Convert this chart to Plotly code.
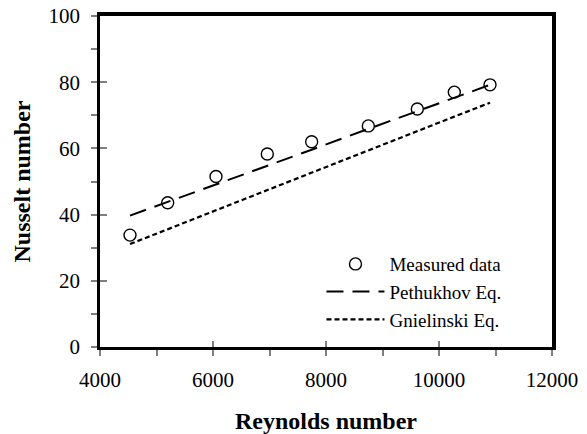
import plotly.graph_objects as go

reynolds = [4531, 5198, 6053, 6961, 7746, 8749, 9616, 10271, 10903]
nu_measured = [33.8, 43.6, 51.5, 58.3, 62.0, 66.8, 71.9, 77.0, 79.2]
nu_pethukhov = [39.7, 43.8, 49.1, 54.8, 59.6, 65.9, 71.2, 75.3, 79.2]
nu_gnielinski = [31.1, 35.6, 41.3, 47.4, 52.7, 59.4, 65.2, 69.6, 73.8]
x_ticks = [4000, 6000, 8000, 10000, 12000]
x_tick_labels = ["4000", "6000", "8000", "10000", "12000"]
y_ticks = [0, 20, 40, 60, 80, 100]
x_range = [4000, 12000]
y_range = [0, 100]

FONT = "Liberation Serif"
TICK_GRAY = "#7f7f7f"

fig = go.Figure()
fig.add_trace(go.Scatter(x=reynolds, y=nu_measured, mode="markers", name="Measured data",
                         marker=dict(symbol="circle-open", size=12, color="black",
                                     line=dict(width=1.4, color="black"))))
fig.add_trace(go.Scatter(x=reynolds, y=nu_pethukhov, mode="lines", name="Pethukhov Eq.",
                         line=dict(color="black", width=2, dash="17px,9px")))
fig.add_trace(go.Scatter(x=reynolds, y=nu_gnielinski, mode="lines", name="Gnielinski Eq.",
                         line=dict(color="black", width=2.2, dash="5px,3px")))
# invisible helper traces to activate the frame / crossing-tick axes
fig.add_trace(go.Scatter(x=[reynolds[0]], y=[nu_measured[0]], xaxis="x2", yaxis="y2",
                         mode="markers", marker=dict(opacity=0), showlegend=False, hoverinfo="skip"))
fig.add_trace(go.Scatter(x=[reynolds[0]], y=[nu_measured[0]], xaxis="x3", yaxis="y3",
                         mode="markers", marker=dict(opacity=0), showlegend=False, hoverinfo="skip"))

hidden = dict(showgrid=False, zeroline=False, showticklabels=False, automargin=False)

fig.update_layout(
    width=587, height=434,
    margin=dict(l=100, r=35, t=16, b=87, autoexpand=False),
    paper_bgcolor="white", plot_bgcolor="white",
    font=dict(family=FONT, color="black", size=20),
    showlegend=True,
    legend=dict(x=0.49, y=0.308, xanchor="left", yanchor="top",
                bgcolor="rgba(0,0,0,0)", font=dict(family=FONT, size=19, color="black"),
                tracegroupgap=0, itemwidth=58),
    xaxis=dict(range=x_range, tickvals=x_ticks, ticktext=x_tick_labels,
               ticks="outside", ticklen=6, tickcolor=TICK_GRAY, tickwidth=1.5,
               minor=dict(dtick=1000, ticks="outside", ticklen=6, tickcolor=TICK_GRAY, tickwidth=1.5),
               showline=True, linecolor="black", linewidth=2.5, showgrid=False, zeroline=False,
               tickfont=dict(family=FONT, size=21, color="black"), automargin=False,
               ticklabelstandoff=6, ticklabeloverflow="allow",
               title=dict(text="<b>Reynolds number</b>", font=dict(family=FONT, size=24), standoff=22)),
    yaxis=dict(range=y_range, tickvals=y_ticks,
               ticks="outside", ticklen=6, tickcolor=TICK_GRAY, tickwidth=1.5,
               minor=dict(dtick=10, ticks="outside", ticklen=6, tickcolor=TICK_GRAY, tickwidth=1.5),
               showline=True, linecolor="black", linewidth=2.5, showgrid=False, zeroline=False,
               tickfont=dict(family=FONT, size=21, color="black"), automargin=False,
               ticklabelstandoff=7, ticklabeloverflow="allow",
               title=dict(text="<b>Nusselt number</b>", font=dict(family=FONT, size=24), standoff=12)),
    xaxis2=dict(overlaying="x", side="top", range=x_range, showline=True,
                linecolor="black", linewidth=4, ticks="", **hidden),
    yaxis2=dict(overlaying="y", side="right", range=y_range, showline=True,
                linecolor="black", linewidth=4, ticks="", **hidden),
    xaxis3=dict(overlaying="x", side="bottom", range=x_range, showline=False,
                tickvals=x_ticks, ticks="inside", ticklen=6, tickcolor=TICK_GRAY, tickwidth=1.5,
                **hidden),
    yaxis3=dict(overlaying="y", side="left", range=y_range, showline=False,
                tickvals=y_ticks, ticks="inside", ticklen=7, tickcolor=TICK_GRAY, tickwidth=1.5,
                **hidden),
)

# remove the default 8px page margin so the 587x434 figure fills the window exactly
fig.write_html("out.html", config={"displayModeBar": False},
               post_script="document.body.style.margin='0';")
